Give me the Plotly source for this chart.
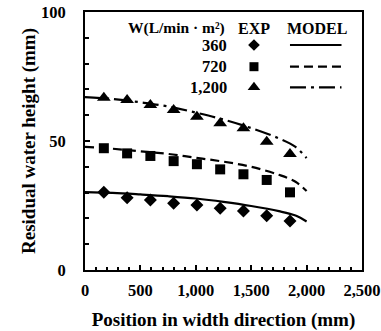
import plotly.graph_objects as go

# Experimental data
exp_x = [170, 380, 590, 800, 1010, 1220, 1430, 1640, 1850]
exp_360 = [30.1, 28.0, 27.1, 25.9, 25.2, 23.9, 22.9, 21.0, 19.0]
exp_720 = [47.2, 45.2, 44.2, 42.2, 41.0, 39.0, 37.1, 34.9, 30.1]
exp_1200 = [66.8, 65.9, 64.0, 62.0, 59.4, 56.9, 54.9, 49.7, 45.0]

# Model curves
model_x = [0, 250, 500, 750, 1000, 1250, 1500, 1750, 1900, 2000]
model_360 = [30.2, 29.9, 29.3, 28.6, 27.7, 26.4, 24.8, 22.8, 21.1, 18.8]
model_720 = [47.7, 47.0, 46.0, 45.0, 43.5, 42.0, 40.0, 36.9, 34.2, 30.6]
model_1200 = [67.0, 66.3, 65.0, 63.4, 61.0, 58.3, 55.0, 51.0, 47.7, 43.4]

series_labels = ["360", "720", "1,200"]
symbols = ["diamond", "square", "triangle-up"]
dashes = ["solid", "9px,5px", "16px,5px,3px,5px"]

FONT = "Liberation Serif"
fig = go.Figure()

exps = [exp_360, exp_720, exp_1200]
models = [model_360, model_720, model_1200]
msizes = [10, 10, 12]
for i in range(3):
    fig.add_trace(go.Scatter(x=model_x, y=models[i], mode="lines",
                             line=dict(color="black", width=2.2, dash=dashes[i]),
                             line_shape="spline", showlegend=False))
    fig.add_trace(go.Scatter(x=exp_x, y=exps[i], mode="markers",
                             marker=dict(symbol=symbols[i], size=msizes[i], color="black"),
                             showlegend=False))

# Custom table-style legend on an overlay axis (0..1)
row_y = [0.872, 0.788, 0.708]
for i in range(3):
    fig.add_trace(go.Scatter(x=[0.61], y=[row_y[i]], mode="markers", xaxis="x2", yaxis="y2",
                             marker=dict(symbol=symbols[i], size=msizes[i] - 1, color="black"),
                             showlegend=False))
    fig.add_trace(go.Scatter(x=[0.74, 0.926], y=[row_y[i], row_y[i]], mode="lines",
                             xaxis="x2", yaxis="y2",
                             line=dict(color="black", width=2.2, dash=dashes[i]),
                             showlegend=False))
    fig.add_annotation(x=0.52, y=row_y[i], xref="x2", yref="y2", text=series_labels[i],
                       showarrow=False, xanchor="right", yanchor="middle",
                       font=dict(family=FONT, size=16.5, color="black", weight="bold"))

hdr_y = 0.938
fig.add_annotation(x=0.511, y=hdr_y, xref="x2", yref="y2", text="W(L/min · m²)",
                   showarrow=False, xanchor="right", yanchor="middle",
                   font=dict(family=FONT, size=15.5, color="black", weight="bold"))
fig.add_annotation(x=0.61, y=hdr_y, xref="x2", yref="y2", text="EXP",
                   showarrow=False, xanchor="center", yanchor="middle",
                   font=dict(family=FONT, size=16, color="black", weight="bold"))
fig.add_annotation(x=0.839, y=hdr_y, xref="x2", yref="y2", text="MODEL",
                   showarrow=False, xanchor="center", yanchor="middle",
                   font=dict(family=FONT, size=16, color="black", weight="bold"))

tickfont = dict(family=FONT, size=16.5, color="black", weight="bold")
titlefont = dict(family=FONT, size=19, color="black", weight="bold")

fig.update_layout(
    width=381, height=331,
    margin=dict(l=85, r=19, t=12, b=61, autoexpand=False),
    paper_bgcolor="white", plot_bgcolor="white",
    showlegend=False,
    xaxis=dict(range=[0, 2500], dtick=500, tickformat=",d", automargin=False,
               ticks="inside", ticklen=5, tickwidth=1.5, tickcolor="black",
               minor=dict(dtick=100, ticks="inside", ticklen=3, tickwidth=1.5, tickcolor="black"),
               showline=True, linecolor="black", linewidth=2, mirror=True,
               showgrid=False, zeroline=False, tickfont=tickfont, ticklabelstandoff=4,
               ticklabeloverflow="allow",
               title=dict(text="Position in width direction (mm)", font=titlefont, standoff=14)),
    yaxis=dict(range=[0, 100], dtick=50, automargin=False,
               ticks="inside", ticklen=5, tickwidth=1.5, tickcolor="black",
               minor=dict(dtick=10, ticks="inside", ticklen=4, tickwidth=1.5, tickcolor="black"),
               showline=True, linecolor="black", linewidth=2, mirror=True,
               showgrid=False, zeroline=False, tickfont=tickfont, ticklabelstandoff=14,
               ticklabeloverflow="allow",
               title=dict(text="Residual water height (mm)", font=titlefont, standoff=0)),
    xaxis2=dict(overlaying="x", range=[0, 1], visible=False),
    yaxis2=dict(overlaying="y", range=[0, 1], visible=False),
)

# Remove the page's default body margin so the figure sits at the window's top-left
fig.write_html("out.html", config={"displayModeBar": False},
               post_script="document.body.style.margin='0';document.body.style.overflow='hidden';")
